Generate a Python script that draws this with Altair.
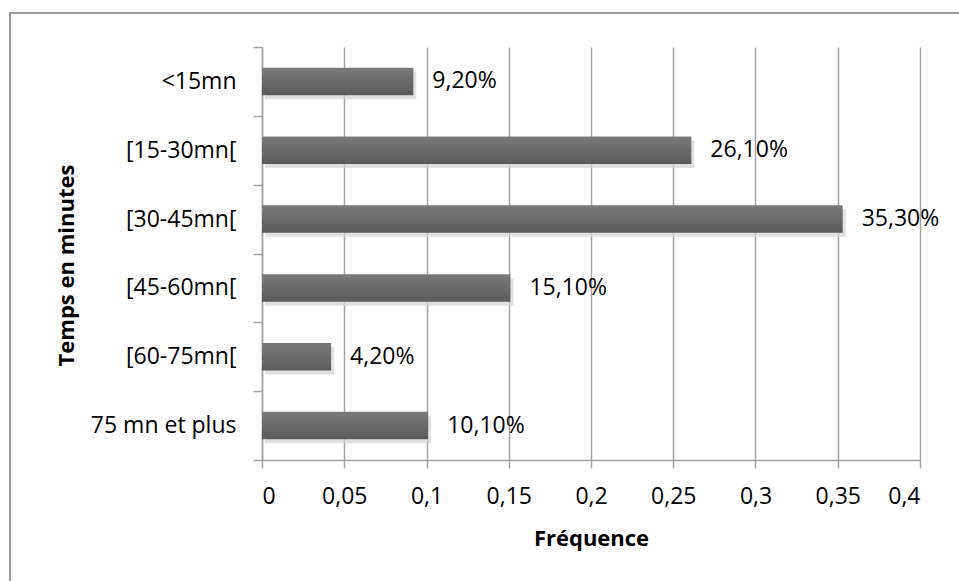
import altair as alt
import pandas as pd

categories = ["<15mn", "[15-30mn[", "[30-45mn[", "[45-60mn[", "[60-75mn[", "75 mn et plus"]
frequencies = [0.092, 0.261, 0.353, 0.151, 0.042, 0.101]
x_ticks = [0, 0.05, 0.1, 0.15, 0.2, 0.25, 0.3, 0.35, 0.4]

df = pd.DataFrame({"cat": categories, "freq": frequencies})

FONT = "Open Sans"
GRID = "#a3a3a3"
FS = 23

x_enc = alt.X(
    "freq:Q",
    scale=alt.Scale(domain=[0, 0.4], nice=False),
    axis=alt.Axis(
        values=x_ticks,
        title="Fréquence",
        labelExpr="replace(format(datum.value, ''), '.', ',')",
        grid=True,
        gridColor=GRID,
        gridWidth=1.5,
        domainColor=GRID,
        domainWidth=1.5,
        tickColor=GRID,
        tickWidth=1.5,
        tickSize=8,
        labelPadding=17,
        labelFontSize=FS,
        labelFont=FONT,
        labelColor="#000000",
        titleFont=FONT,
        titleFontSize=22,
        titleFontWeight="bold",
        titleColor="#000000",
        titleY=85,
        titleBaseline="alphabetic",
    ),
)

y_enc = alt.Y(
    "cat:N",
    sort=categories,
    scale=alt.Scale(paddingInner=0, paddingOuter=0),
    axis=alt.Axis(
        title="Temps en minutes",
        tickBand="extent",
        grid=False,
        domainColor=GRID,
        domainWidth=1.5,
        tickColor=GRID,
        tickWidth=1.5,
        tickSize=9,
        labelPadding=17,
        labelFontSize=FS,
        labelFont=FONT,
        labelColor="#000000",
        titleFont=FONT,
        titleFontSize=22,
        titleFontWeight="bold",
        titleColor="#000000",
        titleX=-196,
        titleY=218,
        titleBaseline="middle",
    ),
)

base = alt.Chart(df)
BAND = alt.RelativeBandSize(0.4)

shadow = base.mark_bar(
    color="#d4d4d4", opacity=0.7, xOffset=3, yOffset=4, height=BAND
).encode(x=x_enc, y=y_enc)

bars = base.mark_bar(
    height=BAND,
    color=alt.Gradient(
        gradient="linear",
        x1=0, x2=0, y1=0, y2=1,
        stops=[
            alt.GradientStop(color="#7a7a7a", offset=0),
            alt.GradientStop(color="#5a5a5a", offset=1),
        ],
    ),
).encode(x=x_enc, y=y_enc)

labels = base.transform_calculate(
    lab="replace(format(datum.freq, '.2%'), '.', ',')"
).mark_text(
    align="left", baseline="middle", dx=19, fontSize=FS, font=FONT, color="#000000"
).encode(x="freq:Q", y=alt.Y("cat:N", sort=categories), text="lab:N")

frame = alt.Chart(pd.DataFrame({"a": [0]})).mark_rect(
    fill=None, stroke="#9a9a9a", strokeWidth=2
).encode(
    x=alt.value(-252), x2=alt.value(720), y=alt.value(-34), y2=alt.value(600)
)

chart = alt.layer(frame, shadow, bars, labels).properties(
    width=658,
    height=413,
    autosize=alt.AutoSizeParams(type="none"),
    padding={"left": 262, "top": 47, "right": 39, "bottom": 121},
    background="#ffffff",
).configure_view(stroke=None)

chart.save("out.html", embed_options={"renderer": "svg", "actions": False})
